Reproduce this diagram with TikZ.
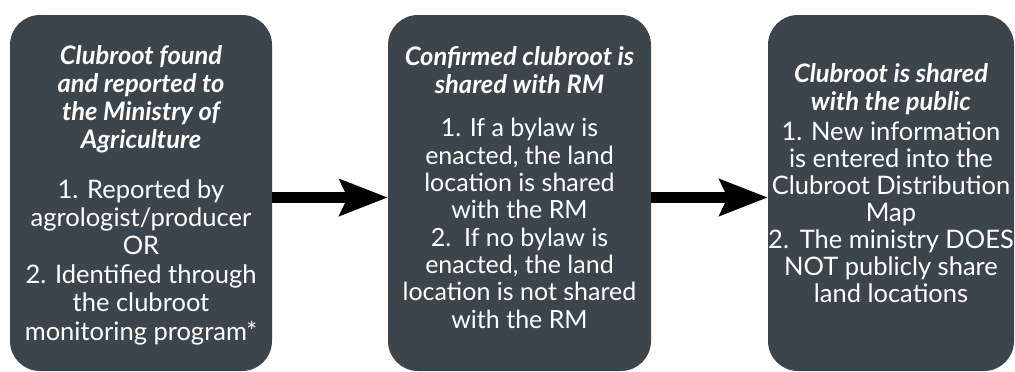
\documentclass[tikz,border=0pt]{standalone}
\usepackage{fontspec}
\setmainfont{Lato}
\usetikzlibrary{arrows.meta}
\definecolor{slate}{RGB}{61,69,76}
\begin{document}
\begin{tikzpicture}[x=1pt,y=-1pt,
  stage/.style={fill=slate, rounded corners=30pt, inner sep=0pt, minimum height=356pt},
  head/.style={text=white, align=center, anchor=base, inner sep=0pt,
    font=\fontsize{25.5}{28}\selectfont\bfseries\itshape},
  body/.style={text=white, align=center, anchor=base, inner sep=0pt,
    font=\fontsize{25.5}{28.4}\selectfont},
  flow/.style={line width=11pt, -{Stealth[length=48pt, width=36pt, inset=8pt]}}]
\useasboundingbox (0,0) rectangle (1015,372);

% the three stages
\node[stage, minimum width=262pt] (b1) at (141,193) {};
\node[stage, minimum width=263pt] (b2) at (519.5,193) {};
\node[stage, minimum width=246pt] (b3) at (891,193) {};

% stage 1 (text nodes are anchored on their last baseline)
\node[head] (h1) at (141,148) {Clubroot found\\and reported to\\the Ministry of\\Agriculture};
\node[body] (t1) at (141,340) {1. Reported by\\agrologist/producer\\OR\\2. Identified through\\the clubroot\\monitoring program*};

% stage 2
\node[head] (h2) at (519.5,93) {Confirmed clubroot is\\shared with RM};
\node[body, font=\fontsize{25}{27.3}\selectfont] (t2) at (519.5,328) {1. If a bylaw is\\enacted, the land\\location is shared\\with the RM\\2.\ \ If no bylaw is\\enacted, the land\\location is not shared\\with the RM};

% stage 3
\node[head] (h3) at (891,110) {Clubroot is shared\\with the public};
\node[body, font=\fontsize{25.5}{27}\selectfont] (t3) at (891,302) {1. New information\\is entered into the\\Clubroot Distribution\\Map\\2.\ \,The ministry DOES\\NOT publicly share\\land locations};

% connectors
\draw[flow] ([yshift=-4.5pt]b1.east) -- ([yshift=-4.5pt]b2.west);
\draw[flow] ([yshift=-4.5pt]b2.east) -- ([yshift=-4.5pt]b3.west);
\end{tikzpicture}
\end{document}
